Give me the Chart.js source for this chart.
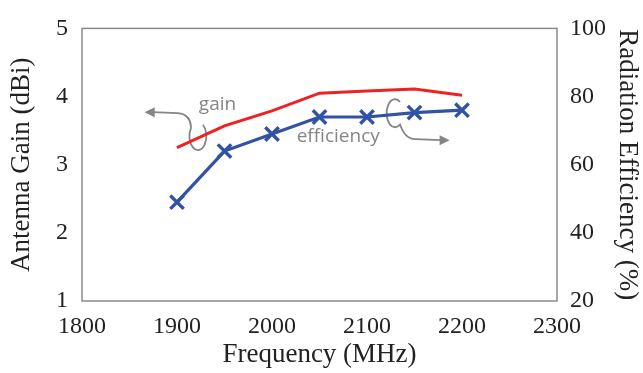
<!DOCTYPE html>
<html>
<head>
<meta charset="utf-8">
<script src="https://cdn.jsdelivr.net/npm/chart.js@4/dist/chart.umd.min.js"></script>
<style>
  html, body { margin: 0; padding: 0; background: #fff; }
  #chart { display: block; }
</style>
</head>
<body>
<canvas id="chart" width="643" height="373"></canvas>
<script>
// values
const frequencies = [1900, 1950, 2000, 2050, 2100, 2150, 2200];
const gainValues = [3.25, 3.57, 3.79, 4.05, 4.08, 4.11, 4.02];
const efficiencyValues = [49, 64, 69, 74, 74, 75.3, 76];

const xTicks = [1800, 1900, 2000, 2100, 2200, 2300];
const gainTicks = [1, 2, 3, 4, 5];
const effTicks = [20, 40, 60, 80, 100];

// annotation anchors, in (frequency, gain) units
const gainLabel = { text: 'gain', x: 1923, y: 3.80 };
const effLabel = { text: 'efficiency', x: 2026, y: 3.33 };
const gainCurl = { x: 1922, y: 3.42, tipX: 1866, tipY: 3.77 };
const effCurl = { x: 2129.5, y: 3.755, tipX: 2187, tipY: 3.36 };

const tickFont = { family: '"Liberation Serif", "Times New Roman", serif', size: 24 };
const titleFont = { family: '"Liberation Serif", "Times New Roman", serif', size: 27 };
const inkColor = '#222';
const noteColor = '#858585';

function arrowHead(ctx, x, y, dir) {
    // dir: -1 points left, 1 points right
    ctx.beginPath();
    ctx.moveTo(x, y);
    ctx.lineTo(x - dir * 10, y - 5);
    ctx.lineTo(x - dir * 10, y + 5);
    ctx.closePath();
    ctx.fill();
}

const framePlugin = {
    id: 'frame',
    beforeDatasetsDraw(chart) {
        const { ctx, chartArea, scales } = chart;
        ctx.save();
        ctx.strokeStyle = '#8a8a8a';
        ctx.lineWidth = 1.5;
        ctx.strokeRect(chartArea.left, chartArea.top, chartArea.right - chartArea.left, chartArea.bottom - chartArea.top);

        const px = v => scales.x.getPixelForValue(v);
        const py = v => scales.y.getPixelForValue(v);

        ctx.strokeStyle = noteColor;
        ctx.fillStyle = noteColor;
        ctx.lineWidth = 1.8;

        // gain curl + arrow to the left
        let cx = px(gainCurl.x), cy = py(gainCurl.y);
        let tx = px(gainCurl.tipX), ty = py(gainCurl.tipY);
        ctx.beginPath();
        ctx.moveTo(tx + 8, ty);
        ctx.lineTo(cx - 20, ty + 1);
        ctx.quadraticCurveTo(cx - 8, ty + 2, cx - 7, cy - 10);
        ctx.ellipse(cx, cy, 8.5, 14, 0, Math.PI * 1.2, -Math.PI * 0.3, true);
        ctx.stroke();
        arrowHead(ctx, tx, ty, -1);

        // efficiency curl + arrow to the right
        cx = px(effCurl.x); cy = py(effCurl.y);
        tx = px(effCurl.tipX); ty = py(effCurl.tipY);
        ctx.beginPath();
        ctx.ellipse(cx, cy, 8.5, 14, 0, -Math.PI * 0.3, Math.PI * 0.3, true);
        ctx.quadraticCurveTo(cx + 10, ty - 1, cx + 20, ty - 1);
        ctx.lineTo(tx - 8, ty);
        ctx.stroke();
        arrowHead(ctx, tx, ty, 1);

        ctx.font = '19px "Open Sans", sans-serif';
        ctx.textAlign = 'left';
        ctx.textBaseline = 'alphabetic';
        ctx.fillText(gainLabel.text, px(gainLabel.x), py(gainLabel.y));
        ctx.fillText(effLabel.text, px(effLabel.x), py(effLabel.y));
        ctx.restore();
    }
};

const ctx = document.getElementById('chart').getContext('2d');
const chart = new Chart(ctx, {
    type: 'line',
    data: {
        datasets: [{
            label: 'gain',
            data: frequencies.map((f, i) => ({ x: f, y: gainValues[i] })),
            yAxisID: 'y',
            borderColor: '#ee2222',
            borderWidth: 3,
            pointRadius: 0,
            tension: 0
        }, {
            label: 'efficiency',
            data: frequencies.map((f, i) => ({ x: f, y: efficiencyValues[i] })),
            yAxisID: 'y1',
            borderColor: '#3252a6',
            borderWidth: 3.2,
            pointStyle: 'crossRot',
            pointRadius: 9.5,
            pointBorderWidth: 3.4,
            pointBorderColor: '#3252a6',
            tension: 0
        }]
    },
    options: {
        responsive: false,
        animation: false,
        layout: { padding: { top: 15, left: 0, right: 0, bottom: 0 } },
        plugins: {
            legend: { display: false },
            tooltip: { enabled: false }
        },
        scales: {
            x: {
                type: 'linear',
                min: 1800,
                max: 2300,
                afterBuildTicks: axis => { axis.ticks = xTicks.map(v => ({ value: v })); },
                afterFit: axis => { axis.height = 72; },
                grid: { display: false, drawTicks: false },
                border: { display: false },
                ticks: { font: tickFont, color: inkColor, padding: 11, maxRotation: 0, callback: v => String(v) },
                title: { display: true, text: 'Frequency (MHz)', font: titleFont, color: inkColor, padding: { top: 0, bottom: 2 } }
            },
            y: {
                position: 'left',
                min: 1,
                max: 5,
                afterBuildTicks: axis => { axis.ticks = gainTicks.map(v => ({ value: v })); },
                afterFit: axis => { axis.width = 82; },
                grid: { display: false, drawTicks: false },
                border: { display: false },
                ticks: { font: tickFont, color: inkColor, padding: 14, callback: v => String(v) },
                title: { display: true, text: 'Antenna Gain (dBi)', font: titleFont, color: inkColor, padding: { top: 6, bottom: 0 } }
            },
            y1: {
                position: 'right',
                min: 20,
                max: 100,
                afterBuildTicks: axis => { axis.ticks = effTicks.map(v => ({ value: v })); },
                afterFit: axis => { axis.width = 86; },
                grid: { display: false, drawTicks: false },
                border: { display: false },
                ticks: { font: tickFont, color: inkColor, padding: 13, callback: v => String(v) },
                title: { display: true, text: 'Radiation Efficiency (%)', font: titleFont, color: inkColor, padding: { top: 0, bottom: 0 } }
            }
        }
    },
    plugins: [framePlugin]
});
</script>
</body>
</html>
